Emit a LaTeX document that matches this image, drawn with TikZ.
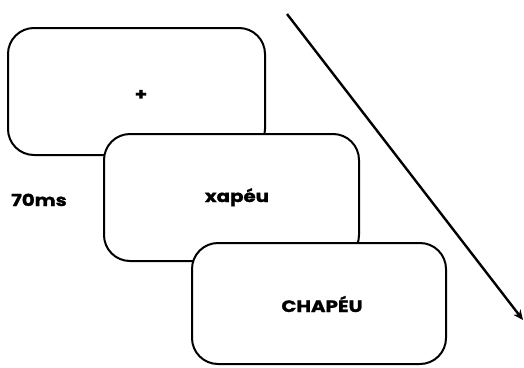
\documentclass[tikz,border=0pt]{standalone}
\usepackage{fontspec}
\setmainfont{Poppins}[BoldFeatures={FakeBold=1.3,FakeStretch=1.2}]
\usetikzlibrary{arrows.meta}
\begin{document}
\begin{tikzpicture}[x=1pt,y=-1pt,
  screen/.style={draw=black,line width=2pt,fill=white,rounded corners=26pt},
  lab/.style={font=\bfseries\fontsize{16.5}{18}\selectfont,inner sep=0pt,anchor=base}]
\useasboundingbox (0,0) rectangle (524,367);
\draw[screen] (8,28) rectangle (265,155);
\node[lab,anchor=center] (fix) at (141,95) {+};
\draw[screen] (104,134) rectangle (359,261);
\node[lab] (prime) at (237,202) {xapéu};
\draw[screen] (192,243) rectangle (446,364);
\node[lab] (target) at (322,312) {CHAPÉU};
\node[lab] (time) at (39,206) {70ms};
\coordinate (a0) at (287,14);
\coordinate (a1) at (523,320);
\draw[line width=2.4pt,-{Stealth[length=10pt,width=9pt]}] (a0) -- (a1);
\end{tikzpicture}
\end{document}
